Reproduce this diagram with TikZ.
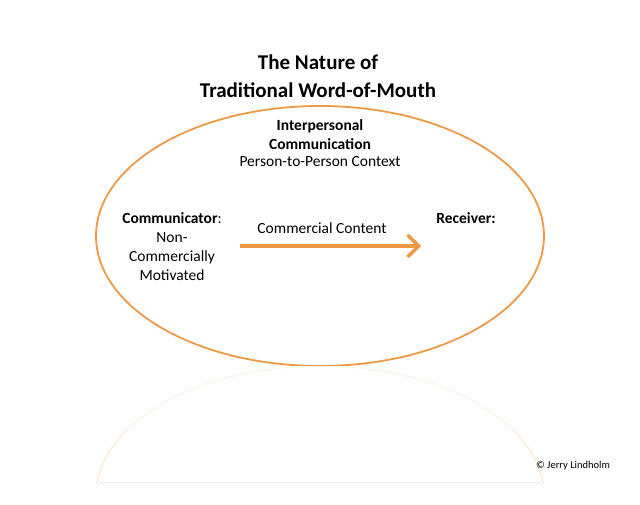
\documentclass[tikz,border=0pt]{standalone}
\usepackage{fontspec}
\setmainfont{Carlito}
\usetikzlibrary{arrows.meta}
\definecolor{org}{HTML}{EE9A45}
\tikzset{lbl/.style={inner sep=0pt,align=center,font=\fontsize{15.5}{19}\selectfont},
 ttl/.style={inner sep=0pt,align=center,font=\bfseries\fontsize{21}{28}\selectfont}}
\begin{document}
\begin{tikzpicture}[x=1pt,y=-1pt]
\useasboundingbox (0,0) rectangle (640,505);
\node[ttl] (t) at (318,76) {The Nature of\\Traditional Word-of-Mouth};
\draw[org,line width=1.8pt] (320,236) ellipse [x radius=224, y radius=130];
\begin{scope}
\clip (80,366) rectangle (560,483);
\draw[org!10,line width=1.5pt] (320,496) ellipse [x radius=224, y radius=130];
\end{scope}
\begin{scope}
\clip (80,430) rectangle (560,483);
\draw[org!18,line width=1.5pt] (320,496) ellipse [x radius=224, y radius=130];
\end{scope}
\draw[black!8,line width=0.6pt] (100,482) -- (540,482);
\node[lbl] (ic) at (320,135) {\textbf{Interpersonal}\\\textbf{Communication}};
\node[lbl] (pc) at (320,162) {Person-to-Person Context};
\node[lbl] (cm) at (172,247) {\textbf{Communicator}:\\Non-\\Commercially\\Motivated};
\node[lbl] (cc) at (322,228) {Commercial Content};
\node[lbl] (rc) at (466,218) {\textbf{Receiver:}};
\coordinate (a) at (240,246);
\coordinate (b) at (421,246);
\draw[org,line width=3.5pt,-{Straight Barb[length=11pt,width=22pt]}] (a) -- (b);
\node[inner sep=0pt,font=\fontsize{10.5}{12}\selectfont] (cp) at (573,466) {© Jerry Lindholm};
\end{tikzpicture}
\end{document}
